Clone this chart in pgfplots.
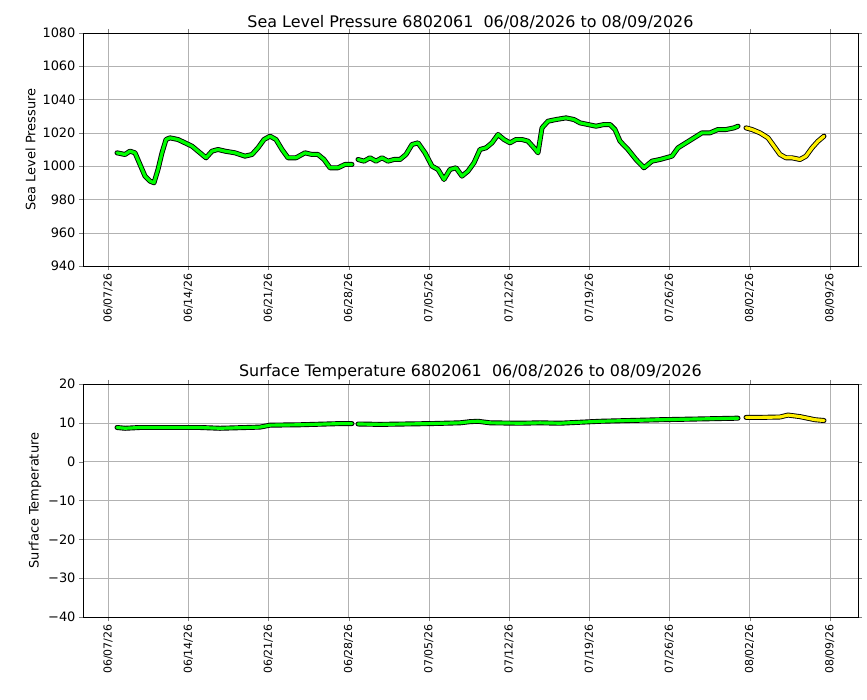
\documentclass[border=0pt]{standalone}
\usepackage{pgfplots}
\pgfplotsset{compat=1.18}
\usepackage{fontspec}
\setmainfont{DejaVu Sans}
\definecolor{lg}{HTML}{00FF00}
\definecolor{yl}{HTML}{FFF000}
\pgfplotstableread{
x y
117 1008
125 1007
130 1009
135 1008
140 1001
145 994
150 991
154 990
158 998
162 1008
166 1016
170 1017
178 1016
185 1014
192 1012
200 1008
206 1005
212 1009
218 1010
225 1009
235 1008
245 1006
252 1007
258 1011
264 1016
270 1018
276 1016
282 1010
288 1005
296 1005
305 1008
312 1007
318 1007
324 1004
330 999
338 999
345 1001
352 1001
}\pA
\pgfplotstableread{
x y
358 1004
364 1003
370 1005
376 1003
382 1005
388 1003
394 1004
400 1004
406 1007
412 1013
418 1014
425 1008
432 1000
438 998
444 992
450 998
456 999
462 994
468 997
474 1002
480 1010
486 1011
492 1014
498 1019
504 1016
510 1014
516 1016
522 1016
528 1015
534 1011
538 1008
542 1023
548 1027
556 1028
566 1029
574 1028
580 1026
588 1025
596 1024
604 1025
610 1025
615 1022
620 1015
628 1010
636 1004
644 999
652 1003
660 1004
666 1005
672 1006
678 1011
686 1014
694 1017
702 1020
710 1020
718 1022
726 1022
734 1023
738 1024
}\pB
\pgfplotstableread{
x y
746 1023
752 1022
760 1020
768 1017
774 1012
780 1007
786 1005
792 1005
800 1004
806 1006
812 1011
818 1015
824 1018
}\pC
\pgfplotstableread{
x y
117 8.8
125 8.6
140 8.8
200 8.8
220 8.6
260 8.9
270 9.4
300 9.5
340 9.8
352 9.8
}\tA
\pgfplotstableread{
x y
358 9.7
380 9.6
430 9.8
460 10.0
470 10.3
478 10.4
490 10.0
520 9.9
540 10.0
560 9.9
600 10.4
660 10.8
700 11.0
738 11.2
}\tB
\pgfplotstableread{
x y
746 11.4
760 11.4
780 11.5
788 12.0
800 11.6
815 10.8
824 10.6
}\tC
\pgfplotsset{
  myax/.style={scale only axis, width=775bp, height=233bp, xmin=83, xmax=858,
    xtick={108,188.2,268.4,348.6,428.8,509,589.2,669.4,749.6,829.8},
    xticklabels={06/07/26,06/14/26,06/21/26,06/28/26,07/05/26,07/12/26,07/19/26,07/26/26,08/02/26,08/09/26},
    xticklabel style={rotate=90, anchor=east, font=\fontsize{11}{12}\selectfont},
    yticklabel style={font=\fontsize{13}{14}\selectfont},
    /pgf/number format/assume math mode=true,
    grid=major, grid style={gray!60}, axis line style={black}, tick align=outside,
    major tick length=4bp,
    title style={font=\fontsize{16}{18}\selectfont, yshift=-5bp},
    ylabel style={font=\fontsize{13}{14}\selectfont},
    anchor=south west, clip=false},
  blk/.style={black, line width=5pt, line join=round, line cap=round},
  grn/.style={lg, line width=3.2pt, line join=round, line cap=round},
  yel/.style={yl, line width=3.2pt, line join=round, line cap=round},
}
\begin{document}
\begin{tikzpicture}
\useasboundingbox (0,0) rectangle (867bp,700bp);
\begin{axis}[myax, at={(83bp,434bp)}, ymin=940, ymax=1080, ytick={940,960,...,1080},
  yticklabels={940,960,980,1000,1020,1040,1060,1080},
  title={Sea Level Pressure 6802061\ \ 06/08/2026 to 08/09/2026}, ylabel={Sea Level Pressure}]
\addplot[blk] table {\pA};
\addplot[blk] table {\pB};
\addplot[blk] table {\pC};
\addplot[grn] table {\pA};
\addplot[grn] table {\pB};
\addplot[yel] table {\pC};
\end{axis}
\begin{axis}[myax, at={(83bp,83bp)}, ymin=-40, ymax=20, ytick={-40,-30,...,20},
  yticklabels={−40,−30,−20,−10,0,10,20},
  title={Surface Temperature 6802061\ \ 06/08/2026 to 08/09/2026}, ylabel={Surface Temperature}]
\addplot[blk] table {\tA};
\addplot[blk] table {\tB};
\addplot[blk] table {\tC};
\addplot[grn] table {\tA};
\addplot[grn] table {\tB};
\addplot[yel] table {\tC};
\end{axis}
\end{tikzpicture}
\end{document}
